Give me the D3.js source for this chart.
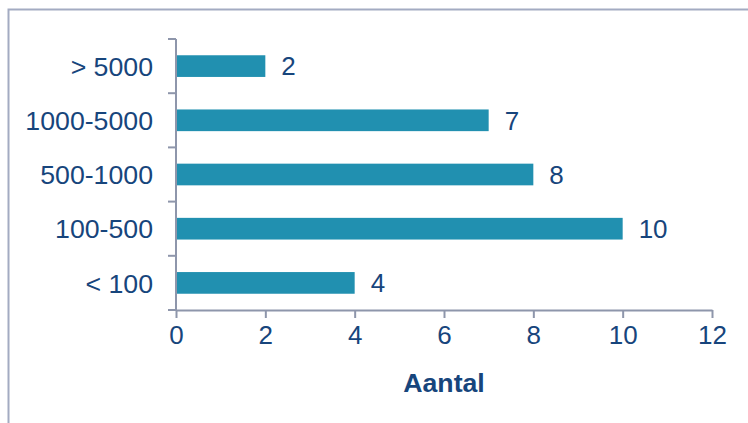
<!DOCTYPE html>
<html>
<head>
<meta charset="utf-8">
<script src="https://cdn.jsdelivr.net/npm/d3@7"></script>
<style>
  body { margin: 0; background: #fff; }
  svg text { font-family: "Liberation Sans", Arial, sans-serif; fill: #17457c; }
</style>
</head>
<body>
<svg id="chart" width="748" height="423"></svg>
<script>
// data
const categories = ["> 5000", "1000-5000", "500-1000", "100-500", "< 100"];
const values = [2, 7, 8, 10, 4];
const xTicks = [0, 2, 4, 6, 8, 10, 12];
const axisTitle = "Aantal";

const svg = d3.select("#chart");
const axisColor = "#8e96ab",
    barColor = "#2190b0";

// outer frame, clipped by the window on right and bottom
svg.append("rect")
    .attr("x", 8.5).attr("y", 9.5)
    .attr("width", 900).attr("height", 600)
    .attr("fill", "none")
    .attr("stroke", "#a3abc2")
    .attr("stroke-width", 2);

const plot = { left: 176, right: 712, top: 39, bottom: 310 };

const x = d3.scaleLinear()
    .domain([0, 12])
    .range([plot.left, plot.right]);

const y = d3.scaleBand()
    .domain(categories)
    .range([plot.top, plot.bottom])
    .paddingInner(0.6)
    .paddingOuter(0.3);

const yb = d3.scaleBand()
    .domain(categories)
    .range([plot.top, plot.bottom]);

// bars
svg.append("g")
    .selectAll("rect")
    .data(categories)
    .enter()
    .append("rect")
    .attr("x", x(0))
    .attr("y", d => y(d))
    .attr("width", (d, i) => x(values[i]) - x(0))
    .attr("height", y.bandwidth())
    .attr("fill", barColor);

// value labels
svg.append("g")
    .selectAll("text")
    .data(categories)
    .enter()
    .append("text")
    .attr("x", (d, i) => x(values[i]) + 16)
    .attr("y", d => y(d) + y.bandwidth() / 2)
    .attr("dy", "0.36em")
    .style("font-size", "26px")
    .text((d, i) => values[i]);

// y axis line and ticks at band boundaries
const yAxis = svg.append("g");
yAxis.append("line")
    .attr("x1", plot.left).attr("x2", plot.left)
    .attr("y1", plot.top).attr("y2", plot.bottom)
    .attr("stroke", axisColor).attr("stroke-width", 2);
yAxis.selectAll("line.tick")
    .data(categories.concat([null]))
    .enter()
    .append("line")
    .attr("class", "tick")
    .attr("x1", plot.left - 8).attr("x2", plot.left)
    .attr("y1", d => d === null ? plot.bottom : yb(d))
    .attr("y2", d => d === null ? plot.bottom : yb(d))
    .attr("stroke", axisColor).attr("stroke-width", 2);
yAxis.selectAll("text")
    .data(categories)
    .enter()
    .append("text")
    .attr("x", plot.left - 23)
    .attr("y", d => yb(d) + yb.bandwidth() / 2)
    .attr("dy", "0.36em")
    .attr("text-anchor", "end")
    .style("font-size", "26.7px")
    .text(d => d);

// x axis
const xAxis = svg.append("g")
    .attr("transform", "translate(0," + plot.bottom + ")")
    .call(d3.axisBottom(x).tickValues(xTicks).tickSize(8).tickPadding(8).tickSizeOuter(0));
xAxis.select(".domain").attr("stroke", axisColor).attr("stroke-width", 2);
xAxis.selectAll(".tick line").attr("stroke", axisColor).attr("stroke-width", 2);
xAxis.selectAll(".tick text")
    .style("font-size", "26px")
    .attr("fill", "#17457c");

svg.append("text")
    .attr("x", (plot.left + plot.right) / 2)
    .attr("y", 392)
    .attr("text-anchor", "middle")
    .style("font-size", "26.7px")
    .style("font-weight", "bold")
    .text(axisTitle);
</script>
</body>
</html>
